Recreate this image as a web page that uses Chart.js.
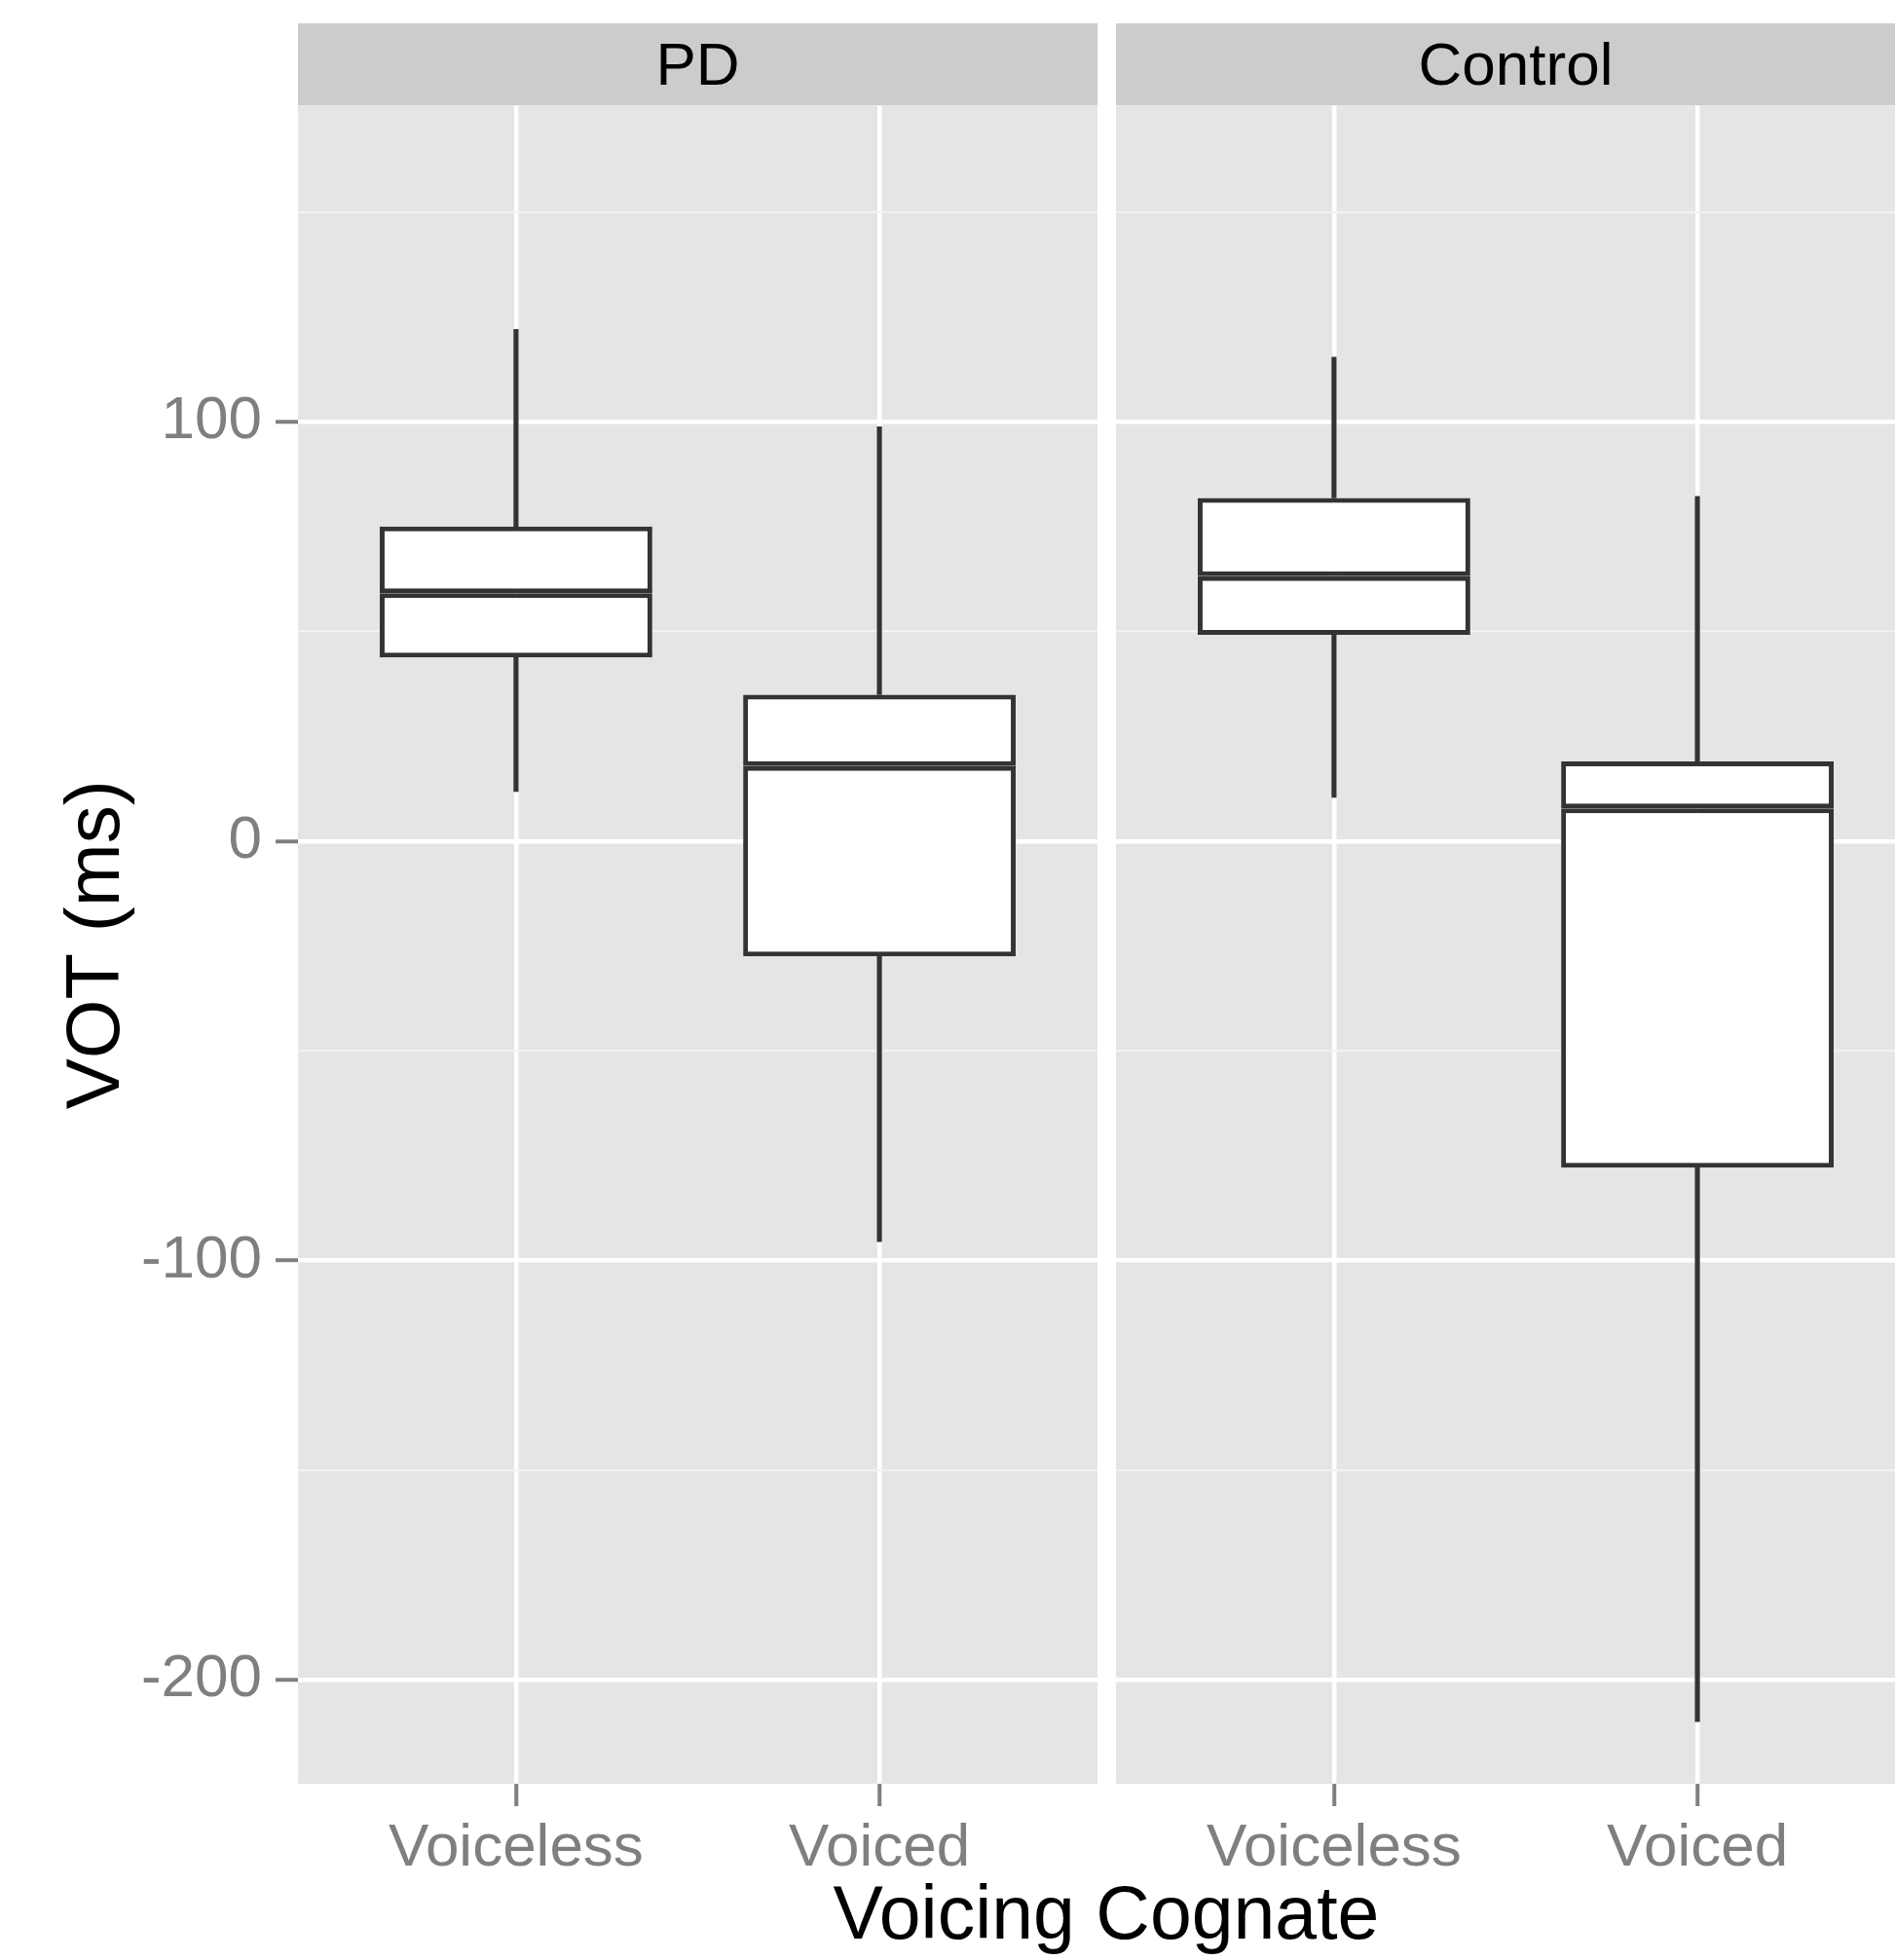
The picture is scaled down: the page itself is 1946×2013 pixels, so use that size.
<!DOCTYPE html>
<html>
<head>
<meta charset="utf-8">
<title>VOT by voicing cognate</title>
<script src="https://cdn.jsdelivr.net/npm/chart.js@4.4.1/dist/chart.umd.min.js"></script>
<style>
  html, body { margin: 0; padding: 0; background: #ffffff; }
  body { position: relative; width: 1946px; height: 2013px; overflow: hidden; font-family: 'Liberation Sans', Arial, sans-serif; }
  canvas { position: absolute; top: 0; }
  #pdChart { left: 0; }
  #controlChart { left: 1146px; }
  #xTitle {
    position: absolute; left: 1136px; top: 1926px; transform: translateX(-50%);
    font-size: 77px; line-height: 77px; color: #000000; white-space: nowrap;
  }
</style>
</head>
<body>
<canvas id="pdChart" width="1127" height="2013"></canvas>
<canvas id="controlChart" width="821" height="2013"></canvas>
<div id="xTitle">Voicing Cognate</div>

<script>
// categories and facets
const groups = ['PD', 'Control'];
const categories = ['Voiceless', 'Voiced'];
const categoryPositions = [1, 2];

// box plot statistics, one value per category (Voiceless, Voiced)
const pdLower = [11.8, -95.5];
const pdQ1 = [43.8, -27.5];
const pdMedian = [59.1, 17.9];
const pdQ3 = [75.0, 34.9];
const pdUpper = [122.0, 98.8];

const controlLower = [10.4, -210];
const controlQ1 = [49.2, -77.9];
const controlMedian = [63.2, 7.8];
const controlQ3 = [81.8, 19.0];
const controlUpper = [115.4, 82.2];

// axes
const yMajorTicks = [-200, -100, 0, 100];
const yMinorTicks = [-150, -50, 50, 150];
const yLimits = [-224.8, 175.4];
const xLimits = [0.4, 2.6];

Chart.defaults.font.family = "'Liberation Sans', Arial, sans-serif";

// grey panel and strip behind everything
const panelBackground = {
  id: 'panelBackground',
  beforeDraw(chart) {
    const ctx = chart.ctx;
    const a = chart.chartArea;
    const t = chart.titleBlock;
    ctx.save();
    ctx.fillStyle = '#CCCCCC';
    ctx.fillRect(a.left, t.top, a.right - a.left, t.bottom - t.top);
    ctx.fillStyle = '#E5E5E5';
    ctx.fillRect(a.left, a.top, a.right - a.left, a.bottom - a.top);
    ctx.restore();
  }
};

function isMajor(ctx) {
  return ctx.tick && yMajorTicks.includes(ctx.tick.value);
}

// box = two stacked floating bars (q1-median, median-q3), so the median gets a double border
function boxDatasets(lower, q1, median, q3, upper) {
  const pts = (a, b) => categoryPositions.map((x, i) => ({ x: x, y: [a[i], b[i]] }));
  const box = {
    backgroundColor: '#FFFFFF', borderColor: '#333333', borderWidth: 5,
    borderSkipped: false, grouped: false, categoryPercentage: 1, barPercentage: 0.75
  };
  const whisker = { backgroundColor: '#333333', borderWidth: 0, grouped: false, barThickness: 4.5 };
  return [
    Object.assign({ data: pts(q1, median) }, box),
    Object.assign({ data: pts(median, q3) }, box),
    Object.assign({ data: pts(lower, q1) }, whisker),
    Object.assign({ data: pts(q3, upper) }, whisker)
  ];
}

function makePanel(canvasId, title, datasets, showY) {
  return new Chart(document.getElementById(canvasId), {
    type: 'bar',
    data: { datasets: datasets },
    plugins: [panelBackground],
    options: {
      responsive: false,
      animation: false,
      devicePixelRatio: 1,
      events: [],
      layout: { padding: { top: 24, left: 0, right: 0, bottom: 0 } },
      plugins: {
        legend: { display: false },
        tooltip: { enabled: false },
        title: {
          display: true, text: title, fullSize: false, color: '#000000',
          font: { size: 62, weight: 'normal' }, padding: { top: 8.5, bottom: 1.5 }
        }
      },
      scales: {
        x: {
          type: 'linear', min: xLimits[0], max: xLimits[1], offset: false,
          afterBuildTicks: s => { s.ticks = categoryPositions.map(v => ({ value: v })); },
          afterFit: s => { s.height = 181; },
          ticks: {
            color: '#7F7F7F', font: { size: 62 }, padding: 6.5, maxRotation: 0, autoSkip: false,
            callback: v => categories[categoryPositions.indexOf(v)]
          },
          grid: { color: '#FFFFFF', lineWidth: 4.5, tickColor: '#7F7F7F', tickWidth: 4, tickLength: 23, offset: false },
          border: { display: false }
        },
        y: {
          min: yLimits[0], max: yLimits[1],
          afterBuildTicks: s => {
            s.ticks = yMinorTicks.concat(yMajorTicks).sort((a, b) => a - b).map(v => ({ value: v }));
          },
          afterFit: s => { s.width = showY ? 306 : 0; },
          ticks: {
            display: showY, color: '#7F7F7F', font: { size: 62 }, padding: 14,
            callback: v => yMajorTicks.includes(v) ? String(v) : ''
          },
          grid: {
            color: ctx => isMajor(ctx) ? '#FFFFFF' : '#F2F2F2',
            lineWidth: ctx => isMajor(ctx) ? 4.5 : 2.2,
            tickColor: ctx => isMajor(ctx) ? '#7F7F7F' : 'rgba(0,0,0,0)',
            tickWidth: 4, tickLength: 23, drawTicks: showY
          },
          border: { display: false },
          title: {
            display: showY, text: 'VOT (ms)', color: '#000000',
            font: { size: 78 }, padding: { top: 54, bottom: 0 }
          }
        }
      }
    }
  });
}

makePanel('pdChart', groups[0], boxDatasets(pdLower, pdQ1, pdMedian, pdQ3, pdUpper), true);
makePanel('controlChart', groups[1], boxDatasets(controlLower, controlQ1, controlMedian, controlQ3, controlUpper), false);
</script>
</body>
</html>
